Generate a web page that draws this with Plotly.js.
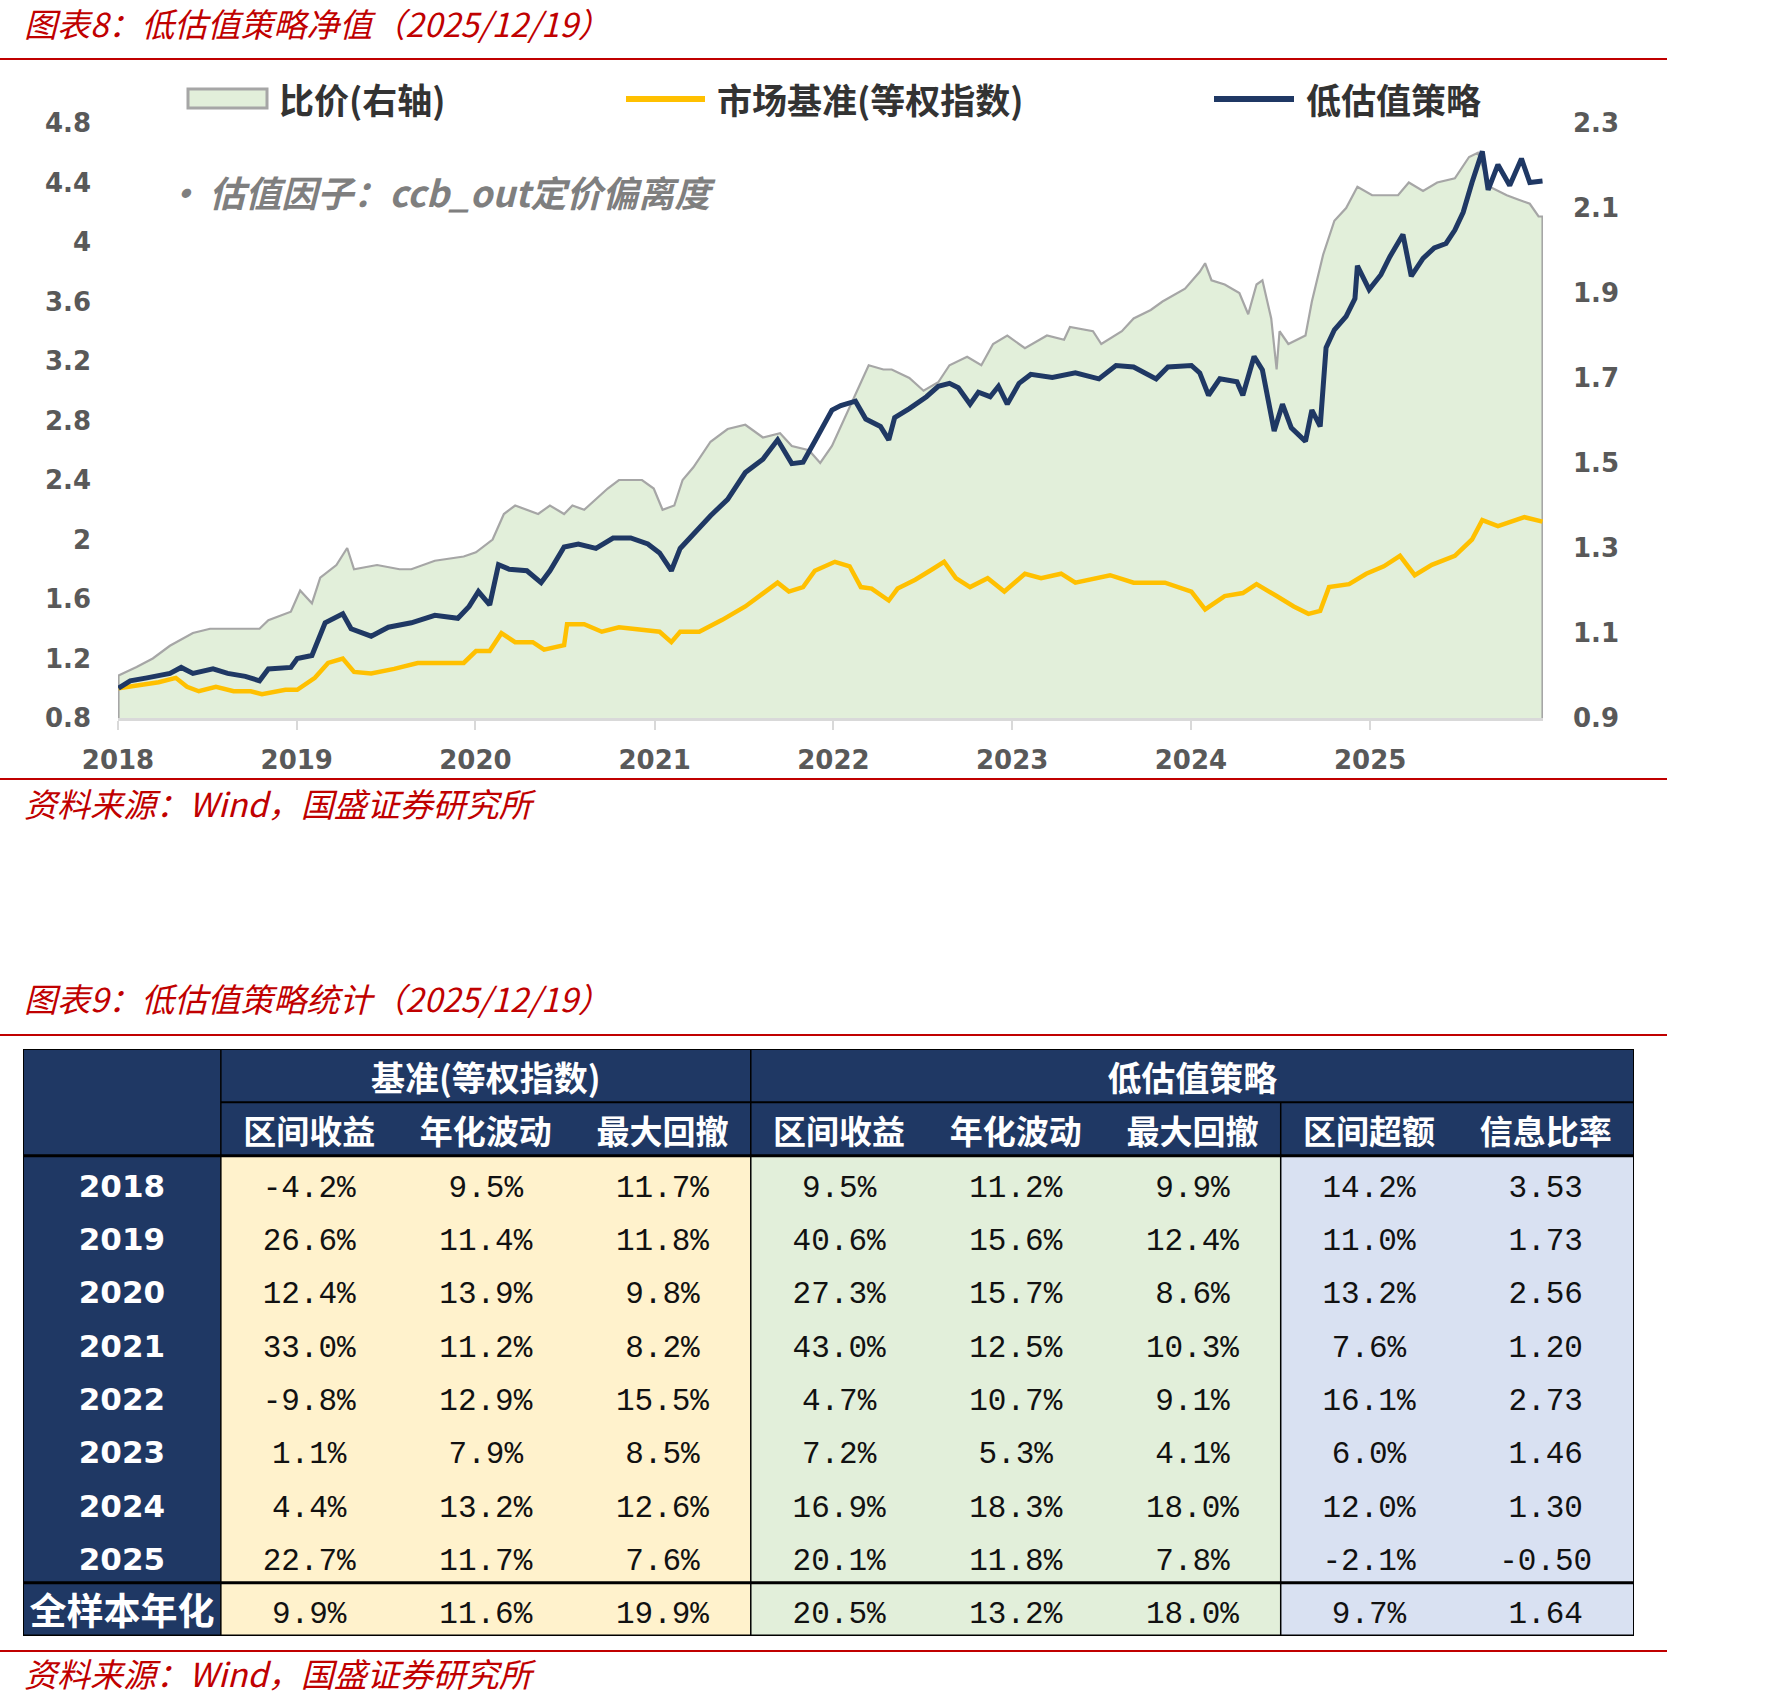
<!DOCTYPE html>
<html><head><meta charset="utf-8">
<script src="https://cdn.plot.ly/plotly-3.0.1.min.js"></script>
<style>html,body{margin:0;padding:0;background:#fff}#chart{width:1784px;height:1705px}</style>
</head><body><div id="chart"></div>
<script>
// ---------- Chart 8 data ----------
const stratDates = [
 '2018-01-02','2018-01-26','2018-03-01','2018-04-17','2018-05-10','2018-06-03','2018-07-14','2018-08-13','2018-09-18','2018-10-17','2018-11-04','2018-12-20',
 '2019-01-02','2019-02-01','2019-02-28','2019-04-05','2019-04-22','2019-06-02','2019-07-07','2019-08-23','2019-10-10','2019-11-26','2019-12-19',
 '2020-01-07','2020-01-30','2020-02-17','2020-03-10','2020-04-15','2020-05-14','2020-06-01','2020-06-30','2020-07-29','2020-09-03','2020-10-08','2020-11-13','2020-12-18',
 '2021-01-11','2021-02-04','2021-02-22','2021-03-21','2021-04-25','2021-05-30','2021-07-05','2021-08-10','2021-09-09','2021-10-08','2021-10-31','2021-11-24','2021-12-29',
 '2022-01-16','2022-02-15','2022-03-08','2022-04-07','2022-04-24','2022-05-06','2022-06-05','2022-07-10','2022-08-03','2022-08-26','2022-09-13','2022-10-07','2022-10-24','2022-11-17','2022-12-04','2022-12-22',
 '2023-01-15','2023-02-08','2023-03-24','2023-05-10','2023-06-27','2023-08-01','2023-09-06','2023-10-22','2023-11-15',
 '2024-01-02','2024-01-19','2024-02-06','2024-02-29','2024-04-04','2024-04-16','2024-05-09','2024-05-26','2024-06-19','2024-07-06','2024-07-24','2024-08-22','2024-09-04','2024-09-21','2024-10-03','2024-10-20','2024-11-13','2024-12-01','2024-12-06','2024-12-30',
 '2025-01-23','2025-02-10','2025-02-27','2025-03-09','2025-03-26','2025-04-19','2025-05-12','2025-06-05','2025-06-23','2025-07-10','2025-07-28','2025-08-18','2025-08-30','2025-09-19','2025-10-13','2025-11-06','2025-11-23','2025-12-19'];
const stratVals = [
 1.00,1.05,1.07,1.10,1.14,1.10,1.13,1.10,1.08,1.05,1.13,1.14,
 1.20,1.22,1.44,1.50,1.40,1.35,1.41,1.44,1.49,1.47,1.55,
 1.65,1.56,1.83,1.80,1.79,1.71,1.79,1.95,1.97,1.94,2.01,2.01,1.97,
 1.91,1.79,1.94,2.04,2.16,2.27,2.45,2.54,2.67,2.51,2.52,2.66,2.87,
 2.90,2.93,2.81,2.76,2.67,2.82,2.88,2.96,3.03,3.05,3.02,2.91,2.99,2.96,3.03,2.91,
 3.05,3.11,3.09,3.12,3.08,3.17,3.16,3.08,3.16,
 3.17,3.12,2.97,3.08,3.06,2.97,3.23,3.14,2.73,2.91,2.75,2.66,2.87,2.76,3.29,3.41,3.50,3.62,3.84,3.68,
 3.78,3.90,3.99,4.05,3.77,3.89,3.96,3.99,4.08,4.20,4.40,4.61,4.35,4.52,4.38,4.56,4.40,4.41];

const benchDates = [
 '2018-01-02','2018-02-08','2018-03-25','2018-04-29','2018-05-22','2018-06-15','2018-07-20','2018-08-25','2018-09-29','2018-10-22','2018-12-09',
 '2019-01-02','2019-02-07','2019-03-06','2019-04-05','2019-04-28','2019-06-02','2019-07-19','2019-09-05','2019-11-03','2019-12-08',
 '2020-01-02','2020-01-30','2020-02-23','2020-03-22','2020-04-27','2020-05-20','2020-06-30','2020-07-06','2020-08-10','2020-09-15','2020-10-20','2020-11-25',
 '2021-01-11','2021-02-04','2021-02-22','2021-04-02','2021-05-19','2021-07-05','2021-08-10','2021-09-09','2021-10-02','2021-10-31','2021-11-24',
 '2022-01-04','2022-02-03','2022-02-26','2022-03-20','2022-04-24','2022-05-12','2022-06-17','2022-07-22','2022-08-15','2022-09-08','2022-10-07','2022-11-12','2022-12-16',
 '2023-01-27','2023-03-01','2023-04-11','2023-05-10','2023-07-20','2023-09-06','2023-11-09',
 '2024-01-02','2024-01-30','2024-03-10','2024-04-16','2024-05-14','2024-06-24','2024-07-29','2024-08-28','2024-09-21','2024-10-09','2024-11-19','2024-12-24',
 '2025-01-29','2025-03-03','2025-04-02','2025-05-07','2025-06-23','2025-07-28','2025-08-18','2025-09-19','2025-10-19','2025-11-12','2025-12-19'];
const benchVals = [
 1.00,1.02,1.04,1.07,1.01,0.98,1.01,0.98,0.98,0.96,0.99,
 0.99,1.07,1.17,1.20,1.11,1.10,1.13,1.17,1.17,1.17,
 1.25,1.25,1.37,1.31,1.31,1.26,1.29,1.43,1.43,1.38,1.41,1.40,
 1.38,1.31,1.38,1.38,1.46,1.55,1.64,1.71,1.65,1.68,1.79,
 1.85,1.82,1.68,1.67,1.59,1.67,1.73,1.80,1.85,1.74,1.68,1.74,1.65,
 1.77,1.74,1.77,1.71,1.76,1.71,1.71,
 1.65,1.53,1.62,1.64,1.70,1.62,1.55,1.50,1.52,1.68,1.70,1.77,
 1.82,1.89,1.76,1.83,1.89,2.00,2.13,2.09,2.12,2.15,2.12];

const ratioDates = [
 '2018-01-02','2018-02-08','2018-03-13','2018-04-17','2018-06-03','2018-07-08','2018-09-06','2018-10-17','2018-11-04','2018-12-20',
 '2019-01-08','2019-02-01','2019-02-18','2019-03-23','2019-04-14','2019-04-28','2019-06-14','2019-07-30','2019-08-23','2019-10-10','2019-12-08',
 '2020-01-02','2020-02-05','2020-02-28','2020-03-22','2020-05-08','2020-06-01','2020-06-30','2020-07-17','2020-08-10','2020-09-27','2020-10-20','2020-12-06','2020-12-30',
 '2021-01-17','2021-02-10','2021-02-27','2021-03-21','2021-04-25','2021-05-30','2021-07-05','2021-08-10','2021-09-14','2021-10-08','2021-11-12','2021-12-05','2021-12-29',
 '2022-02-15','2022-03-14','2022-04-13','2022-04-30','2022-06-05','2022-07-04','2022-08-03','2022-08-26','2022-10-01','2022-10-30','2022-11-23','2022-12-22',
 '2023-01-27','2023-03-13','2023-04-17','2023-04-29','2023-06-15','2023-07-02','2023-08-13','2023-09-06','2023-10-11','2023-11-04','2023-12-20',
 '2024-01-19','2024-01-30','2024-02-12','2024-03-10','2024-04-09','2024-04-27','2024-05-14','2024-05-26','2024-06-13','2024-06-24','2024-06-30','2024-07-18','2024-08-22','2024-09-04','2024-09-27','2024-10-20','2024-11-13','2024-12-06',
 '2025-01-05','2025-02-04','2025-02-27','2025-03-21','2025-04-19','2025-05-18','2025-06-23','2025-07-22','2025-08-09','2025-09-02','2025-10-07','2025-10-30','2025-11-23','2025-12-11','2025-12-19'];
const ratioVals = [
 1.00,1.02,1.04,1.07,1.10,1.11,1.11,1.11,1.13,1.15,
 1.20,1.17,1.23,1.26,1.30,1.25,1.26,1.25,1.25,1.27,1.28,
 1.29,1.32,1.38,1.40,1.38,1.40,1.38,1.40,1.39,1.44,1.46,1.46,1.44,
 1.39,1.40,1.46,1.49,1.55,1.58,1.59,1.56,1.57,1.54,1.53,1.50,1.54,
 1.66,1.73,1.72,1.72,1.70,1.67,1.69,1.73,1.75,1.73,1.78,1.80,
 1.77,1.80,1.79,1.82,1.81,1.78,1.81,1.84,1.86,1.88,1.91,
 1.95,1.97,1.93,1.92,1.90,1.85,1.92,1.93,1.84,1.72,1.81,1.78,1.80,1.88,1.99,2.07,2.10,2.15,
 2.13,2.13,2.13,2.16,2.14,2.16,2.17,2.22,2.23,2.15,2.13,2.12,2.11,2.08,2.08];

const leftRange = [0.8, 4.8];
const rightRange = [0.9, 2.3];
const yearTicks = ['2018','2019','2020','2021','2022','2023','2024','2025'];

// ---------- Chart 9 (table) data ----------
const rowLabels = ['2018','2019','2020','2021','2022','2023','2024','2025','全样本年化'];
const groupHeaders = ['基准(等权指数)','低估值策略'];
const colHeaders = ['区间收益','年化波动','最大回撤','区间收益','年化波动','最大回撤','区间超额','信息比率'];
const benchRet = [-4.2, 26.6, 12.4, 33.0, -9.8, 1.1, 4.4, 22.7, 9.9];
const benchVol = [9.5, 11.4, 13.9, 11.2, 12.9, 7.9, 13.2, 11.7, 11.6];
const benchDD  = [11.7, 11.8, 9.8, 8.2, 15.5, 8.5, 12.6, 7.6, 19.9];
const stratRet = [9.5, 40.6, 27.3, 43.0, 4.7, 7.2, 16.9, 20.1, 20.5];
const stratVol = [11.2, 15.6, 15.7, 12.5, 10.7, 5.3, 18.3, 11.8, 13.2];
const stratDD  = [9.9, 12.4, 8.6, 10.3, 9.1, 4.1, 18.0, 7.8, 18.0];
const excessRet = [14.2, 11.0, 13.2, 7.6, 16.1, 6.0, 12.0, -2.1, 9.7];
const infoRatio = [3.53, 1.73, 2.56, 1.20, 2.73, 1.46, 1.30, -0.50, 1.64];

// ---------- helpers ----------
const W = 1784, H = 1705;
const px = x => x / W;
const py = y => 1 - y / H;
const NAVY = '#1F3864', YELLOW = '#FFC000', RED = '#C00000';
const CJK = 'Noto Sans CJK SC';

// ---------- chart traces ----------
const traces = [];
traces.push({
  type: 'scatter', mode: 'lines', xaxis: 'x', yaxis: 'y',
  x: [ratioDates[0]].concat(ratioDates, [ratioDates[ratioDates.length - 1]]),
  y: [rightRange[0]].concat(ratioVals, [rightRange[0]]),
  fill: 'toself', fillcolor: '#E2EFDA',
  line: {color: '#A6A6A6', width: 2.2}, hoverinfo: 'skip', showlegend: false
});
traces.push({
  type: 'scatter', mode: 'lines', xaxis: 'x', yaxis: 'y2',
  x: benchDates, y: benchVals, line: {color: YELLOW, width: 4.5}, showlegend: false
});
traces.push({
  type: 'scatter', mode: 'lines', xaxis: 'x', yaxis: 'y2',
  x: stratDates, y: stratVals, line: {color: NAVY, width: 5}, showlegend: false
});

// ---------- table ----------
const firstColW = 1.12;
const nCols = colHeaders.length;
const edges = [0, firstColW];
for (let i = 1; i <= nCols; i++) edges.push(firstColW + i);
const totalW = edges[edges.length - 1];
const nRows = 2 + rowLabels.length; // 11
const colCenter = i => (edges[i] + edges[i + 1]) / 2;
const rowMid = 0.62;

const shapes = [];
const rect = (x0, x1, y0, y1, color) => shapes.push({type: 'rect', xref: 'x3', yref: 'y3', x0, x1, y0, y1, fillcolor: color, line: {width: 0}, layer: 'below'});
const tline = (x0, x1, y0, y1, w) => shapes.push({type: 'line', xref: 'x3', yref: 'y3', x0, x1, y0, y1, line: {color: '#000', width: w}});

rect(edges[0], edges[1], 0, nRows, NAVY);
rect(edges[1], totalW, 0, 2, NAVY);
rect(edges[1], edges[4], 2, nRows, '#FFF2CC');
rect(edges[4], edges[7], 2, nRows, '#E2EFDA');
rect(edges[7], totalW, 2, nRows, '#D9E1F2');
tline(0, totalW, 0, 0, 2);
tline(0, totalW, nRows, nRows, 3);
tline(0, 0, 0, nRows, 2);
tline(totalW, totalW, 0, nRows, 2);
tline(edges[1], totalW, 1, 1, 2);
tline(0, totalW, 2, 2, 3);
tline(0, totalW, nRows - 1, nRows - 1, 3);
tline(edges[1], edges[1], 0, nRows, 1.5);
tline(edges[4], edges[4], 0, nRows, 1.5);
tline(edges[7], edges[7], 1, nRows, 1.5);

traces.push({
  type: 'scatter', mode: 'text', xaxis: 'x3', yaxis: 'y3', hoverinfo: 'skip', showlegend: false,
  x: [(edges[1] + edges[4]) / 2, (edges[4] + totalW) / 2], y: [rowMid, rowMid], text: groupHeaders,
  textfont: {family: CJK, size: 34, color: '#fff', weight: 'bold'}
});
traces.push({
  type: 'scatter', mode: 'text', xaxis: 'x3', yaxis: 'y3', hoverinfo: 'skip', showlegend: false,
  x: colHeaders.map((_, i) => colCenter(i + 1)), y: colHeaders.map(() => 1 + rowMid), text: colHeaders,
  textfont: {family: CJK, size: 33, color: '#fff', weight: 'bold'}
});
traces.push({
  type: 'scatter', mode: 'text', xaxis: 'x3', yaxis: 'y3', hoverinfo: 'skip', showlegend: false,
  x: rowLabels.slice(0, 8).map(() => colCenter(0)), y: rowLabels.slice(0, 8).map((_, i) => 2 + rowMid + i),
  text: rowLabels.slice(0, 8),
  textfont: {family: 'DejaVu Sans', size: 31, color: '#fff', weight: 'bold'}
});
traces.push({
  type: 'scatter', mode: 'text', xaxis: 'x3', yaxis: 'y3', hoverinfo: 'skip', showlegend: false,
  x: [colCenter(0)], y: [2 + rowMid + 8], text: [rowLabels[8]],
  textfont: {family: CJK, size: 37, color: '#fff', weight: 'bold'}
});
const pct = v => v.toFixed(1) + '%';
const columns = [benchRet, benchVol, benchDD, stratRet, stratVol, stratDD, excessRet].map(a => a.map(pct));
columns.push(infoRatio.map(v => v.toFixed(2)));
const vx = [], vy = [], vt = [];
columns.forEach((col, c) => col.forEach((t, r) => { vx.push(colCenter(c + 1)); vy.push(2 + rowMid + r); vt.push(t); }));
traces.push({
  type: 'scatter', mode: 'text', xaxis: 'x3', yaxis: 'y3', hoverinfo: 'skip', showlegend: false,
  x: vx, y: vy, text: vt,
  textfont: {family: 'Liberation Mono', size: 31, color: '#111'}
});

// ---------- page decorations ----------
const redLine = y => shapes.push({type: 'line', xref: 'paper', yref: 'paper', x0: 0, x1: px(1667), y0: py(y), y1: py(y), line: {color: RED, width: 2}});
redLine(59); redLine(779); redLine(1035); redLine(1651);
shapes.push({type: 'rect', xref: 'paper', yref: 'paper', x0: px(188), x1: px(267), y0: py(108), y1: py(89), fillcolor: '#E2EFDA', line: {color: '#A6A6A6', width: 3}});
shapes.push({type: 'line', xref: 'paper', yref: 'paper', x0: px(626), x1: px(705), y0: py(99), y1: py(99), line: {color: YELLOW, width: 6}});
shapes.push({type: 'line', xref: 'paper', yref: 'paper', x0: px(1214), x1: px(1294), y0: py(99), y1: py(99), line: {color: NAVY, width: 6}});

const ann = (text, x, y, font) => ({text, x: px(x), y: py(y), xref: 'paper', yref: 'paper', xanchor: 'left', yanchor: 'middle', showarrow: false, font});
const titleFont = {family: CJK, size: 33, color: RED, style: 'italic'};
const legFont = {family: CJK, size: 35, color: '#333333', weight: 'bold'};
const annotations = [
  ann('图表8：低估值策略净值（2025/12/19）', 22, 23, titleFont),
  ann('资料来源：Wind，国盛证券研究所', 22, 803, titleFont),
  ann('图表9：低估值策略统计（2025/12/19）', 22, 998, titleFont),
  ann('资料来源：Wind，国盛证券研究所', 22, 1673, titleFont),
  ann('比价(右轴)', 277, 98, legFont),
  ann('市场基准(等权指数)', 715, 98, legFont),
  ann('低估值策略', 1304, 98, legFont),
  ann('• 估值因子：ccb_out定价偏离度', 163, 191, {family: CJK, size: 36, color: '#7F7F7F', style: 'italic', weight: 'bold'})
];

const tickFont = {family: 'DejaVu Sans', size: 26, color: '#595959', weight: 'bold'};
const layout = {
  width: W, height: H, margin: {l: 0, r: 0, t: 0, b: 0, pad: 0},
  paper_bgcolor: '#fff', plot_bgcolor: 'rgba(0,0,0,0)', showlegend: false,
  xaxis: {
    type: 'date', domain: [px(118), px(1543)], range: ['2018-01-01', '2025-12-20'],
    tickvals: yearTicks.map(y => y + '-01-01'), ticktext: yearTicks,
    ticks: 'outside', ticklen: 9, tickwidth: 2, tickcolor: '#D9D9D9',
    showline: true, linecolor: '#D9D9D9', linewidth: 3, showgrid: false, zeroline: false,
    tickfont: tickFont, ticklabelstandoff: 8, anchor: 'y'
  },
  yaxis: {
    domain: [py(718), py(123)], range: rightRange, tick0: 0.9, dtick: 0.2, tickformat: '.1f',
    side: 'right', showgrid: false, zeroline: false, showline: false, ticks: '',
    tickfont: tickFont, ticklabelstandoff: 29, anchor: 'x'
  },
  yaxis2: {
    overlaying: 'y', side: 'left', range: leftRange, tick0: 0.8, dtick: 0.4,
    showgrid: false, zeroline: false, showline: false, ticks: '',
    tickfont: tickFont, ticklabelstandoff: 26, anchor: 'x'
  },
  xaxis3: {domain: [px(23), px(1634)], range: [0, totalW], visible: false, anchor: 'y3', fixedrange: true},
  yaxis3: {domain: [py(1636), py(1049)], range: [nRows, 0], visible: false, anchor: 'x3', fixedrange: true},
  shapes, annotations
};

Plotly.newPlot('chart', traces, layout, {staticPlot: true, displayModeBar: false});
</script></body></html>
